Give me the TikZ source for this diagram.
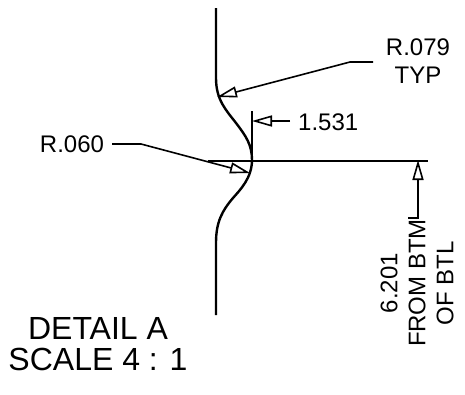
\documentclass[tikz,border=0pt]{standalone}
\usepackage{fontspec}
\setmainfont{Liberation Sans}
\usetikzlibrary{arrows.meta}
\usetikzlibrary{positioning}
\tikzstyle{profile}=[line width=2.4pt]
\tikzstyle{dimline}=[line width=1.6pt]
\tikzstyle{dimarrow}=[line width=1.6pt,-{Triangle[open,length=20pt,width=11pt,line width=1.6pt]}]
\tikzstyle{label}=[font=\fontsize{24}{28}\selectfont,inner sep=0pt,align=center]

\begin{document}
\begin{tikzpicture}[x=1pt,y=-1pt]
\useasboundingbox (0,0) rectangle (465,394);

%Profile
    \draw[profile] (216,8) -- (216,78) .. controls (216,100) and (226,110) .. (236,123)
        .. controls (246,136) and (252,145) .. (252,160)
        .. controls (252,178) and (240,190) .. (233,198)
        .. controls (222,211) and (216,222) .. (216,243) -- (216,315);

%Labels
    \node[label] (typ) at (418,61) {R.079\\TYP};
    \node[label,anchor=west] (dia) at (298,122) {1.531};
    \node[label] (rad) at (72,144) {R.060};
    \node[label,rotate=90,anchor=center] (btm) at (417,283) {6.201\\FROM BTM\\OF BTL};
    \node[font=\fontsize{32}{31}\selectfont,inner sep=0pt,align=center] (detail) at (98,344) {DETAIL A\\SCALE 4 : 1};

%Coordinates
    \coordinate (typa) at (373,62);
    \coordinate (typb) at (350,62);
    \coordinate (typtip) at (217,97);
    \coordinate (diaa) at (290,121);
    \coordinate (diatip) at (252,121);
    \coordinate (diatop) at (252,111);
    \coordinate (diabot) at (252,160);
    \coordinate (rada) at (112,144);
    \coordinate (radb) at (141,144);
    \coordinate (radtip) at (250,173);
    \coordinate (exta) at (208,161);
    \coordinate (extb) at (428,161);
    \coordinate (btma) at (408,218);
    \coordinate (btmb) at (418,218);
    \coordinate (btmtip) at (418,160);

%Leaders
    \draw[dimarrow] (typa) -- (typb) -- (typtip);
    \draw[dimarrow] (diaa) -- (diatip);
    \draw[dimarrow] (rada) -- (radb) -- (radtip);
    \draw[dimarrow] (btma) -- (btmb) -- (btmtip);
    \foreach \source/\dest in {diatop/diabot, exta/extb}
        \draw[dimline] (\source) -- (\dest);

\end{tikzpicture}
\end{document}
